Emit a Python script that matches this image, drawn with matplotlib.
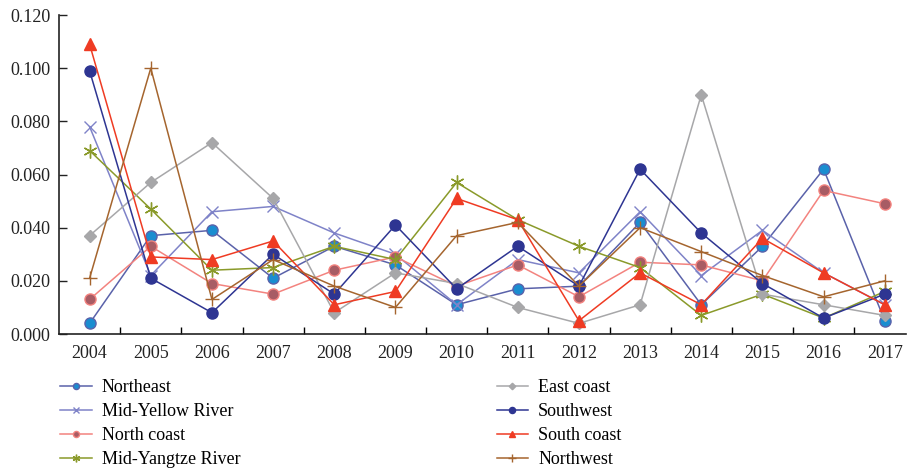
import matplotlib.pyplot as plt
import numpy as np

plt.rcParams['font.family'] = ['Liberation Serif', 'DejaVu Serif']

years = ['2004', '2005', '2006', '2007', '2008', '2009', '2010',
         '2011', '2012', '2013', '2014', '2015', '2016', '2017']

northeast = [0.004, 0.037, 0.039, 0.021, 0.033, 0.026, 0.011,
             0.017, 0.018, 0.042, 0.011, 0.033, 0.062, 0.005]
mid_yellow = [0.078, 0.022, 0.046, 0.048, 0.038, 0.030, 0.011,
              0.028, 0.023, 0.046, 0.022, 0.039, 0.023, 0.011]
north_coast = [0.013, 0.033, 0.019, 0.015, 0.024, 0.029, 0.018,
               0.026, 0.014, 0.027, 0.026, 0.020, 0.054, 0.049]
mid_yangtze = [0.069, 0.047, 0.024, 0.025, 0.033, 0.028, 0.057,
               0.043, 0.033, 0.025, 0.007, 0.015, 0.006, 0.016]
east_coast = [0.037, 0.057, 0.072, 0.051, 0.008, 0.023, 0.019,
              0.010, 0.004, 0.011, 0.090, 0.015, 0.011, 0.007]
southwest = [0.099, 0.021, 0.008, 0.030, 0.015, 0.041, 0.017,
             0.033, 0.018, 0.062, 0.038, 0.019, 0.006, 0.015]
south_coast = [0.109, 0.029, 0.028, 0.035, 0.011, 0.016, 0.051,
               0.043, 0.005, 0.023, 0.011, 0.036, 0.023, 0.011]
northwest = [0.021, 0.100, 0.013, 0.028, 0.018, 0.010, 0.037,
             0.042, 0.018, 0.040, 0.031, 0.022, 0.014, 0.020]

x = np.arange(len(years))

fig = plt.figure(figsize=(9.08, 4.68), dpi=100)
ax = fig.add_axes([0.065, 0.2863, 0.933, 0.6816])

# (label, data, line colour, marker, face colour, edge colour, size)
series = [
    ('Northeast', northeast, '#5a62aa', 'o', '#1a8dd0', '#5a62aa', 8),
    ('Mid-Yellow River', mid_yellow, '#7f83c8', 'x', '#7f83c8', '#7f83c8', 9),
    ('North coast', north_coast, '#f3837f', 'o', '#a85c64', '#f3837f', 8),
    ('Mid-Yangtze River', mid_yangtze, '#8a9a2a', (6, 2, 0), '#8a9a2a', '#8a9a2a', 10),
    ('East coast', east_coast, '#a7a7a9', 'D', '#a7a7a9', '#a7a7a9', 6),
    ('Southwest', southwest, '#2e3592', 'o', '#2e3592', '#2e3592', 8),
    ('South coast', south_coast, '#ef3b23', '^', '#ef3b23', '#ef3b23', 8),
    ('Northwest', northwest, '#a5652e', '+', '#a5652e', '#a5652e', 10),
]

for label, vals, col, mk, fc, ec, ms in series:
    ax.plot(x, vals, color=col, lw=1.1, marker=mk, markersize=ms,
            markerfacecolor=fc, markeredgecolor=ec, markeredgewidth=1.0,
            label=label)

ax.set_xlim(-0.5, 13.35)
ax.set_ylim(0, 0.12)
ax.set_yticks(np.arange(0, 0.121, 0.02))
ax.yaxis.set_major_formatter(plt.FormatStrFormatter('%.3f'))
ax.set_xticks(x)
ax.set_xticklabels(years)
ax.set_xticks(np.arange(0.5, 13, 1), minor=True)

ax.tick_params(axis='x', which='major', length=0, pad=8, labelsize=13)
ax.tick_params(axis='x', which='minor', direction='in', length=5, width=1)
ax.tick_params(axis='y', direction='in', length=6, width=1, pad=6, labelsize=13)
ax.tick_params(axis='both', labelcolor='#222222', color='#222222')

ax.spines['top'].set_visible(False)
ax.spines['right'].set_visible(False)
ax.spines['left'].set_color('#222222')
ax.spines['bottom'].set_color('#222222')
ax.spines['left'].set_linewidth(1.2)
ax.spines['bottom'].set_linewidth(1.2)

ax.legend(loc='upper left', bbox_to_anchor=(-0.018, -0.09), ncol=2,
          frameon=False, fontsize=13, markerscale=0.55, handlelength=1.75,
          columnspacing=14.2, labelspacing=0.39, handletextpad=0.55)

fig.savefig('out.png', dpi=100)
